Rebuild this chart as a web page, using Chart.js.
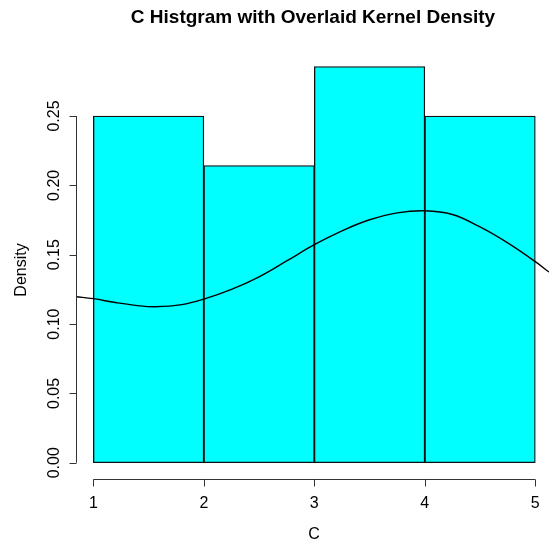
<!DOCTYPE html>
<html>
<head>
<meta charset="utf-8">
<script src="https://cdn.jsdelivr.net/npm/chart.js@4/dist/chart.umd.min.js"></script>
<style>
  html, body { margin: 0; padding: 0; background: #fff; }
  #wrap { width: 549px; height: 543px; }
</style>
</head>
<body>
<div id="wrap"><canvas id="chart" width="549" height="543"></canvas></div>
<script>
// Histogram bins (midpoints) and densities
const binMids = [1.5, 2.5, 3.5, 4.5];
const binDensity = [0.25, 0.2143, 0.2857, 0.25];

// Kernel density curve
const kdeX = [0.843, 1.0, 1.2, 1.4, 1.56, 1.8, 2.0, 2.25, 2.5, 2.75, 3.0, 3.25, 3.5, 3.75, 4.0, 4.25, 4.5, 4.75, 5.0, 5.124];
const kdeY = [0.1197, 0.1183, 0.1155, 0.1133, 0.1125, 0.114, 0.118, 0.125, 0.1341, 0.1455, 0.1572, 0.1672, 0.1752, 0.1802, 0.1817, 0.179, 0.17, 0.1585, 0.145, 0.1375];

// Axis ticks
const xTicks = [1, 2, 3, 4, 5];
const yTicks = [0, 0.05, 0.1, 0.15, 0.2, 0.25];
const yTickLabels = ["0.00", "0.05", "0.10", "0.15", "0.20", "0.25"];

const titleText = "C Histgram with Overlaid Kernel Density";
const xTitle = "C";
const yTitle = "Density";

const FONT = '"Liberation Sans", Arial, Helvetica, sans-serif';

// R style axes and labels
const rAxes = {
  id: "rAxes",
  afterDraw(chart) {
    const ctx = chart.ctx;
    const xs = chart.scales.x, ys = chart.scales.y;
    const area = chart.chartArea;
    ctx.save();
    ctx.strokeStyle = "#333";
    ctx.lineWidth = 1;
    ctx.fillStyle = "#000";

    // x axis
    const ay = Math.round(area.bottom) + 0.5;
    ctx.beginPath();
    ctx.moveTo(xs.getPixelForValue(xTicks[0]), ay);
    ctx.lineTo(xs.getPixelForValue(xTicks[xTicks.length - 1]), ay);
    xTicks.forEach((t) => {
      const px = Math.round(xs.getPixelForValue(t)) + 0.5;
      ctx.moveTo(px, ay);
      ctx.lineTo(px, ay + 7);
    });
    ctx.stroke();
    ctx.font = "16px " + FONT;
    ctx.textAlign = "center";
    ctx.textBaseline = "middle";
    xTicks.forEach((t) => ctx.fillText(String(t), xs.getPixelForValue(t), 504));

    // y axis
    const ax = Math.round(area.left) + 0.5;
    ctx.beginPath();
    ctx.moveTo(ax, ys.getPixelForValue(yTicks[0]));
    ctx.lineTo(ax, ys.getPixelForValue(yTicks[yTicks.length - 1]));
    yTicks.forEach((t) => {
      const py = Math.round(ys.getPixelForValue(t)) + 0.5;
      ctx.moveTo(ax, py);
      ctx.lineTo(ax - 7, py);
    });
    ctx.stroke();
    yTicks.forEach((t, i) => {
      ctx.save();
      ctx.translate(55, ys.getPixelForValue(t));
      ctx.rotate(-Math.PI / 2);
      ctx.fillText(yTickLabels[i], 0, 0);
      ctx.restore();
    });

    // axis titles
    ctx.fillText(xTitle, 314, 535);
    ctx.save();
    ctx.translate(22, 270);
    ctx.rotate(-Math.PI / 2);
    ctx.fillText(yTitle, 0, 0);
    ctx.restore();

    // main title
    ctx.font = "bold 19px " + FONT;
    ctx.fillText(titleText, 313, 18);
    ctx.restore();
  },
};

new Chart(document.getElementById("chart"), {
  type: "bar",
  data: {
    datasets: [
      {
        type: "line",
        label: "Density",
        data: kdeX.map((x, i) => ({ x, y: kdeY[i] })),
        borderColor: "#000",
        borderWidth: 1.4,
        pointRadius: 0,
        tension: 0.4,
        fill: false,
        order: 0,
      },
      {
        type: "bar",
        label: "C",
        data: binMids.map((x, i) => ({ x, y: binDensity[i] })),
        backgroundColor: "#00FFFF",
        borderColor: "#111",
        borderWidth: 1.3,
        borderSkipped: false,
        barThickness: "flex",
        barPercentage: 1,
        categoryPercentage: 1,
        order: 1,
      },
    ],
  },
  options: {
    responsive: false,
    animation: false,
    layout: { padding: { left: 76, right: 0, top: 50.7, bottom: 64.4 } },
    scales: {
      x: { type: "linear", min: 0.843, max: 5.124, offset: false, display: false },
      y: { min: -0.01143, max: 0.2971, display: false },
    },
    plugins: {
      legend: { display: false },
      tooltip: { enabled: false },
      title: { display: false },
    },
  },
  plugins: [rAxes],
});
</script>
</body>
</html>
